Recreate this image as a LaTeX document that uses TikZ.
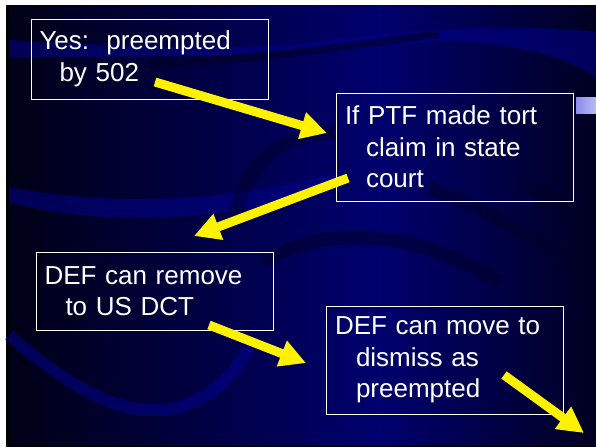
\documentclass[tikz,border=0pt]{standalone}
\usepackage{fontspec}
\setmainfont{Liberation Sans}
\usetikzlibrary{arrows.meta}
\definecolor{slidedark}{RGB}{0,0,22}
\definecolor{slidenavy}{RGB}{0,0,110}
\definecolor{slideright}{RGB}{0,0,34}
\definecolor{bandlight}{RGB}{0,0,150}
\definecolor{banddark}{RGB}{0,0,40}
\definecolor{tabbar}{RGB}{140,140,235}
\tikzset{
  box/.style={draw=white, line width=1pt, text=white, align=left,
    text width=220pt, inner xsep=8.5pt, inner ysep=0pt,
    font=\fontsize{26}{31.5}\selectfont},
  arr/.style={draw=yellow, line width=9pt, -{Triangle[length=26pt,width=26pt]}},
  band/.style={bandlight, opacity=0.5},
}
\begin{document}
\begin{tikzpicture}[x=1pt,y=-1pt]
\useasboundingbox (0,0) rectangle (596,447);
\fill[white] (0,0) rectangle (596,447);

% Slide background
\fill[black] (6,5) rectangle (596,447);
\shade[left color=slidedark, right color=slidenavy] (9,5) rectangle (380,444);
\shade[left color=slidenavy, right color=slideright] (380,5) rectangle (596,444);

% Swirl bands
\fill[band] (9,40) .. controls (120,46) and (220,50) .. (300,44)
  .. controls (400,30) and (500,22) .. (596,32) -- (596,78)
  .. controls (560,50) and (480,38) .. (420,42)
  .. controls (360,48) and (250,58) .. (9,57) -- cycle;
\draw[banddark, opacity=0.6, line width=8pt] (150,64) .. controls (260,60) and (350,45) .. (440,34);
\fill[band] (9,187) .. controls (100,205) and (220,205) .. (340,172)
  -- (340,188) .. controls (240,215) and (120,232) .. (9,202) -- cycle;
\draw[banddark, opacity=0.45, line width=14pt] (236,212) .. controls (250,160) and (280,135) .. (335,132);
\draw[banddark, opacity=0.5, line width=14pt] (262,262) .. controls (330,222) and (420,232) .. (500,282);
\draw[banddark, opacity=0.5, line width=14pt] (430,188) .. controls (500,215) and (550,245) .. (596,282);
\draw[banddark, opacity=0.5, line width=12pt] (520,182) .. controls (550,195) and (575,210) .. (596,226);
\draw[band, line width=12pt, fill=none] (9,335) .. controls (60,380) and (120,420) .. (175,408)
  .. controls (215,398) and (238,370) .. (250,345);
\shade[left color=tabbar, right color=tabbar!60!white] (576,97) rectangle (596,113);

% Boxes
\node[box, minimum height=80pt] (yes) at (149.5,59) {Yes:\ \ preempted\\\hspace*{20pt}by 502};
\node[box, minimum height=108pt] (ptf) at (455,147) {If PTF made tort\\\hspace*{21pt}claim in state\\\hspace*{21pt}court};
\node[box, minimum height=78pt] (remove) at (154.5,291) {DEF can remove\\\hspace*{21pt}to US DCT};
\node[box, minimum height=108pt] (dismiss) at (445,360) {DEF can move to\\\hspace*{21pt}dismiss as\\\hspace*{21pt}preempted};

% Arrow ends
\coordinate (yesout) at (155,82);
\coordinate (ptfin) at (327,133);
\coordinate (ptfout) at (348,178);
\coordinate (removein) at (194,236);
\coordinate (removeout) at (209,325);
\coordinate (dismissin) at (306,363);
\coordinate (dismissout) at (504,375);
\coordinate (nextin) at (584,433);

% Arrows
\draw[arr] (yesout) -- (ptfin);
\draw[arr] (ptfout) -- (removein);
\draw[arr] (removeout) -- (dismissin);
\draw[arr] (dismissout) -- (nextin);

\end{tikzpicture}
\end{document}
